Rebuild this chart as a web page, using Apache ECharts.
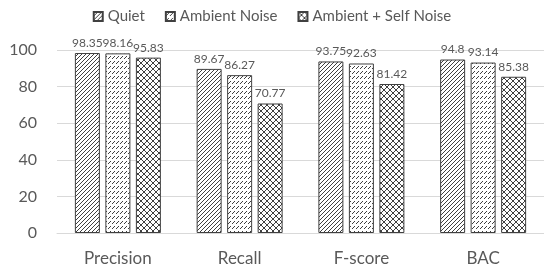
<!DOCTYPE html>
<html><head><meta charset="utf-8">
<script src="https://cdn.jsdelivr.net/npm/echarts@6/dist/echarts.min.js"></script>
<style>html,body{margin:0;padding:0;background:#fff}#c{width:544px;height:271px}</style>
</head><body><div id="c"></div>
<script>
const categories = ['Precision', 'Recall', 'F-score', 'BAC'];
const seriesNames = ['Quiet', 'Ambient Noise', 'Ambient + Self Noise'];
const quiet = [98.35, 89.67, 93.75, 94.8];
const ambient = [98.16, 86.27, 92.63, 93.14];
const ambientSelf = [95.83, 70.77, 81.42, 85.38];
const yTicks = [0, 20, 40, 60, 80, 100];

function makePattern(w, h, pixels) {
  const c = document.createElement('canvas');
  c.width = w; c.height = h;
  const ctx = c.getContext('2d');
  ctx.fillStyle = '#fff'; ctx.fillRect(0, 0, w, h);
  ctx.fillStyle = '#404040';
  pixels.forEach(p => ctx.fillRect(p[0], p[1], 1, 1));
  return { image: c, repeat: 'repeat' };
}
// dark upward diagonal
const pat1 = makePattern(4, 4, [[0,3],[1,2],[2,1],[3,0]]);
// dashed upward diagonal
const pat2 = makePattern(4, 5, [[0,3],[1,2],[2,1]]);
// diamond lattice
const pat3 = makePattern(6, 6, [[0,0],[1,1],[2,2],[3,3],[4,4],[5,5],[5,0],[4,1],[3,2],[2,3],[1,4],[0,5]]);
const patterns = [pat1, pat2, pat3];
const values = [quiet, ambient, ambientSelf];

const chart = echarts.init(document.getElementById('c'));
chart.setOption({
  animation: false,
  backgroundColor: '#fff',
  textStyle: { fontFamily: 'Lato' },
  legend: {
    top: 4, left: 'center', icon: 'rect', itemWidth: 9, itemHeight: 9, itemGap: 20,
    textStyle: { color: '#595959', fontSize: 15, fontFamily: 'Lato' },
    data: seriesNames
  },
  grid: { left: 57, right: 0, top: 50, bottom: 38 },
  xAxis: {
    type: 'category', data: categories,
    axisLine: { lineStyle: { color: '#d9d9d9' } },
    axisTick: { show: false },
    axisLabel: { color: '#595959', fontSize: 17, fontFamily: 'Lato', margin: 17 }
  },
  yAxis: {
    type: 'value', min: 0, max: 100, interval: 20,
    axisLabel: { color: '#595959', fontSize: 16, fontFamily: 'Lato', margin: 20 },
    splitLine: { lineStyle: { color: '#d9d9d9' } },
    axisLine: { show: false }, axisTick: { show: false }
  },
  series: seriesNames.map((n, i) => ({
    name: n, type: 'bar', data: values[i],
    barWidth: 25, barGap: '22%', barCategoryGap: '29%',
    itemStyle: { color: patterns[i], borderColor: '#404040', borderWidth: 1 },
    label: { show: true, position: 'top', color: '#595959', fontSize: 12, fontFamily: 'Lato', distance: 4 }
  }))
});
</script></body></html>
